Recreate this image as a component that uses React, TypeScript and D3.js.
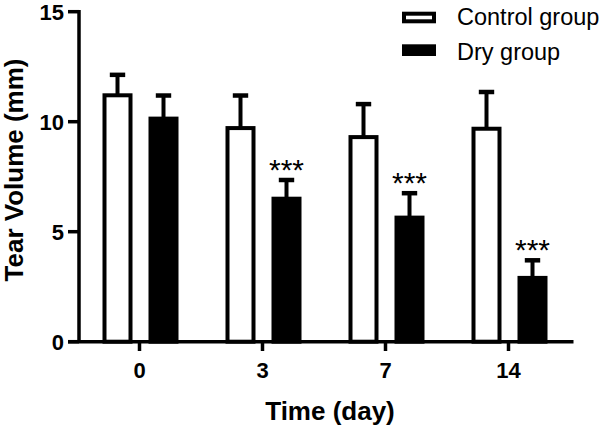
import React from "react";
import * as d3 from "d3";

const categories = ["0", "3", "7", "14"];
const seriesNames = ["Control group", "Dry group"];
const controlMeans = [11.2, 9.71, 9.3, 9.68];
const controlSD = [0.93, 1.48, 1.5, 1.67];
const dryMeans = [10.14, 6.5, 5.64, 2.9];
const drySD = [1.05, 0.85, 1.11, 0.8];
const drySignificance = ["", "***", "***", "***"];
const yTicks = [0, 5, 10, 15];

const W = 603;
const H = 429;
const FONT = "'Liberation Sans', Arial, Helvetica, sans-serif";

export default function App() {
  const x = d3.scaleBand<string>().domain(categories).range([78, 570]);
  const sub = d3
    .scaleBand<string>()
    .domain(["control", "dry"])
    .range([-37, 39])
    .paddingInner(16 / 46);
  const y = d3.scaleLinear().domain([0, 15]).range([341.7, 11.7]);
  const axisX = 79;
  const y0 = y(0);
  const bw = sub.bandwidth();
  const sw = 4;

  const groups = categories.map((c, i) => ({
    c,
    cx: (x(c) as number) + x.bandwidth() / 2,
    bars: [
      { key: "control", mean: controlMeans[i], sd: controlSD[i], fill: "#fff", sig: "" },
      { key: "dry", mean: dryMeans[i], sd: drySD[i], fill: "#000", sig: drySignificance[i] },
    ],
  }));

  return (
    <svg
      width={W}
      height={H}
      style={{ position: "absolute", left: 0, top: 0, background: "#fff" }}
      fontFamily={FONT}
    >
      <rect x={0} y={0} width={W} height={H} fill="#fff" />
      {groups.map((g) => (
        <g key={g.c}>
          {g.bars.map((b) => {
            const x0 = g.cx + (sub(b.key) as number);
            const bx = x0 + bw / 2;
            const yTop = y(b.mean);
            const yErr = y(b.mean + b.sd);
            return (
              <g key={b.key}>
                <line x1={bx} x2={bx} y1={yTop} y2={yErr} stroke="#000" strokeWidth={4} />
                <line x1={bx - 7.7} x2={bx + 7.7} y1={yErr} y2={yErr} stroke="#000" strokeWidth={4.5} />
                <rect
                  x={x0 + sw / 2}
                  y={yTop}
                  width={bw - sw}
                  height={y0 - yTop}
                  fill={b.fill}
                  stroke="#000"
                  strokeWidth={sw}
                />
                {b.sig && (
                  <text x={bx} y={yErr - 0.5} textAnchor="middle" fontSize={30} fill="#000">
                    {b.sig}
                  </text>
                )}
              </g>
            );
          })}
        </g>
      ))}
      <line x1={axisX} x2={axisX} y1={y(15) - 1.7} y2={y0} stroke="#000" strokeWidth={3.5} />
      {yTicks.map((t) => (
        <g key={t}>
          <line x1={68} x2={axisX} y1={y(t)} y2={y(t)} stroke="#000" strokeWidth={3.5} />
          <text x={64} y={y(t) + 8} textAnchor="end" fontSize={22} fontWeight="bold" fill="#000">
            {t}
          </text>
        </g>
      ))}
      <line x1={68} x2={573.5} y1={y0} y2={y0} stroke="#000" strokeWidth={3.5} />
      {groups.map((g) => (
        <g key={g.c}>
          <line x1={g.cx} x2={g.cx} y1={y0} y2={351} stroke="#000" strokeWidth={3.5} />
          <text x={g.cx} y={377.5} textAnchor="middle" fontSize={22} fontWeight="bold" fill="#000">
            {g.c}
          </text>
        </g>
      ))}
      <text x={330} y={420} textAnchor="middle" fontSize={26} fontWeight="bold" fill="#000">
        Time (day)
      </text>
      <text
        transform={`translate(23,170) rotate(-90)`}
        textAnchor="middle"
        fontSize={26}
        fontWeight="bold"
        fill="#000"
      >
        Tear Volume (mm)
      </text>
      <rect x={404} y={13.7} width={30} height={7.6} fill="#fff" stroke="#000" strokeWidth={4} />
      <text x={457} y={25} fontSize={23.5} fill="#000">
        {seriesNames[0]}
      </text>
      <rect x={402} y={44.3} width={34} height={11.7} fill="#000" />
      <text x={457} y={59.5} fontSize={23.5} fill="#000">
        {seriesNames[1]}
      </text>
    </svg>
  );
}
